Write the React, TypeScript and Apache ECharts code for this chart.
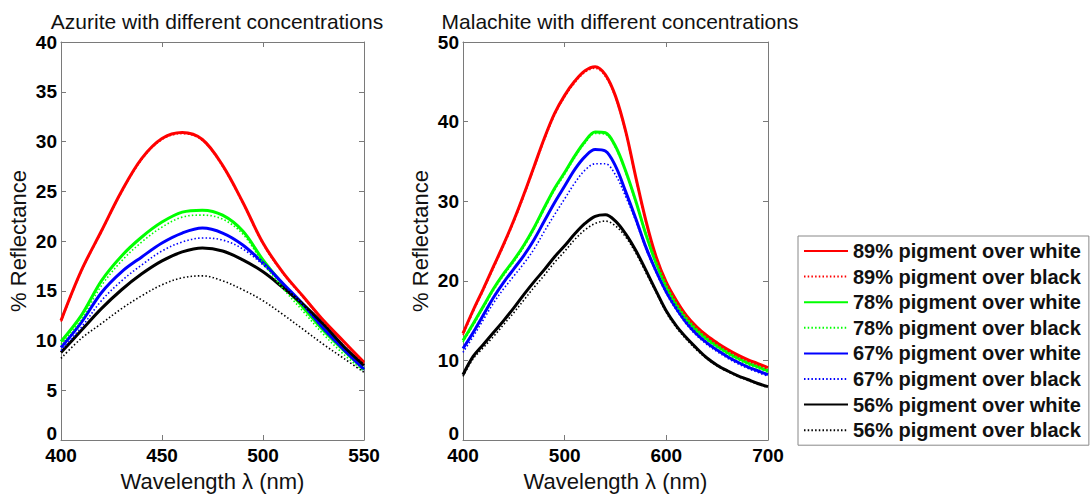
import React, { useEffect, useRef } from "react";
import * as echarts from "echarts";

// ---------- data ----------
const azuWavelengths = [400, 410, 420, 430, 440, 450, 460, 470, 480, 490, 500, 510, 520, 530, 540, 550];
const azu89White = [12.0, 17.0, 21.0, 25.0, 28.3, 30.3, 30.9, 30.2, 27.6, 23.9, 19.8, 16.8, 14.4, 12.0, 9.9, 7.8];
const azu89Black = [11.9, 16.9, 20.9, 24.9, 28.2, 30.2, 30.8, 30.1, 27.5, 23.8, 19.7, 16.7, 14.3, 11.9, 9.8, 7.7];
const azu78White = [9.9, 12.5, 16.0, 18.5, 20.4, 21.9, 22.9, 23.1, 22.6, 21.0, 18.1, 15.6, 13.3, 11.0, 9.0, 7.1];
const azu78Black = [9.6, 12.1, 15.5, 18.0, 19.9, 21.4, 22.4, 22.6, 22.2, 20.7, 17.8, 15.2, 12.9, 10.6, 8.6, 6.9];
const azu67White = [9.3, 11.8, 14.8, 16.9, 18.4, 19.8, 20.8, 21.3, 20.8, 19.6, 17.8, 15.7, 13.6, 11.2, 9.1, 7.1];
const azu67Black = [9.0, 11.3, 14.0, 16.0, 17.6, 19.0, 19.9, 20.3, 20.1, 19.2, 17.6, 15.6, 13.5, 11.1, 9.0, 7.0];
const azu56White = [8.8, 11.0, 13.2, 15.1, 16.7, 18.0, 18.9, 19.3, 19.0, 18.1, 16.9, 15.3, 13.6, 11.6, 9.4, 7.5];
const azu56Black = [8.2, 10.2, 11.7, 13.2, 14.5, 15.6, 16.3, 16.5, 16.0, 15.1, 14.0, 12.6, 11.1, 9.6, 8.2, 6.8];

const malWavelengths = [400, 410, 420, 430, 440, 450, 460, 470, 480, 490, 500, 510, 520, 530, 540, 550, 560, 570, 580, 590, 600, 610, 620, 630, 640, 650, 660, 670, 680, 690, 700];
const mal89White = [13.4, 16.3, 19.0, 21.8, 24.6, 27.6, 30.9, 34.4, 37.9, 41.0, 43.3, 45.1, 46.4, 46.9, 45.9, 43.2, 38.8, 33.0, 27.5, 23.0, 19.8, 17.5, 15.6, 14.2, 13.1, 12.2, 11.4, 10.7, 10.1, 9.6, 9.1];
const mal89Black = [13.2, 16.1, 18.8, 21.6, 24.4, 27.4, 30.7, 34.2, 37.7, 40.8, 43.1, 44.9, 46.2, 46.7, 45.7, 43.0, 38.6, 32.8, 27.3, 22.8, 19.6, 17.3, 15.4, 14.0, 12.9, 12.0, 11.2, 10.5, 9.9, 9.4, 8.9];
const mal78White = [12.5, 14.6, 16.8, 19.0, 20.9, 22.6, 24.5, 26.7, 29.2, 31.6, 33.6, 35.7, 37.5, 38.7, 38.6, 36.9, 33.8, 30.0, 25.8, 22.2, 19.3, 17.0, 15.2, 13.8, 12.7, 11.8, 11.0, 10.3, 9.7, 9.2, 8.7];
const mal78Black = [12.3, 14.4, 16.6, 18.8, 20.7, 22.4, 24.3, 26.5, 29.0, 31.4, 33.4, 35.5, 37.3, 38.5, 38.4, 36.7, 33.6, 29.8, 25.6, 22.0, 19.1, 16.8, 15.0, 13.6, 12.5, 11.6, 10.8, 10.1, 9.5, 9.0, 8.5];
const mal67White = [11.5, 13.5, 15.7, 17.9, 19.8, 21.5, 23.2, 25.2, 27.5, 29.8, 31.9, 34.0, 35.6, 36.5, 36.3, 34.4, 31.2, 27.8, 24.2, 21.2, 18.6, 16.5, 14.7, 13.3, 12.2, 11.3, 10.5, 9.8, 9.2, 8.7, 8.2];
const mal67Black = [11.0, 13.0, 15.1, 17.2, 19.0, 20.6, 22.2, 24.0, 26.2, 28.3, 30.3, 32.3, 33.9, 34.7, 34.7, 33.3, 30.6, 27.5, 24.0, 21.0, 18.4, 16.3, 14.5, 13.1, 12.0, 11.1, 10.3, 9.6, 9.0, 8.5, 8.0];
const mal56White = [8.2, 10.5, 12.0, 13.5, 15.0, 16.6, 18.3, 19.9, 21.4, 23.0, 24.4, 25.9, 27.2, 28.1, 28.3, 27.5, 25.9, 23.8, 21.3, 18.7, 16.2, 14.3, 12.8, 11.5, 10.3, 9.4, 8.7, 8.1, 7.6, 7.1, 6.7];
const mal56Black = [8.0, 10.2, 11.6, 13.0, 14.5, 16.0, 17.6, 19.2, 20.7, 22.3, 23.7, 25.2, 26.4, 27.2, 27.5, 26.9, 25.5, 23.5, 21.0, 18.5, 16.0, 14.1, 12.6, 11.3, 10.2, 9.3, 8.6, 8.0, 7.5, 7.0, 6.6];

const seriesNames = [
  "89% pigment over white",
  "89% pigment over black",
  "78% pigment over white",
  "78% pigment over black",
  "67% pigment over white",
  "67% pigment over black",
  "56% pigment over white",
  "56% pigment over black",
];
const seriesColors = ["#ff0000", "#ff0000", "#00ff00", "#00ff00", "#0000ff", "#0000ff", "#000000", "#000000"];
const seriesDotted = [false, true, false, true, false, true, false, true];

const azuSeries = [azu89White, azu89Black, azu78White, azu78Black, azu67White, azu67Black, azu56White, azu56Black];
const malSeries = [mal89White, mal89Black, mal78White, mal78Black, mal67White, mal67Black, mal56White, mal56Black];

const titles = ["Azurite with different concentrations", "Malachite with different concentrations"];

const FONT = "'Liberation Sans', Arial, sans-serif";
const AXIS_COLOR = "#7a7a7a";

function buildSeries(values: number[][], xs: number[], xIdx: number, yIdx: number) {
  return values.map((vals, i) => ({
    type: "line",
    name: seriesNames[i],
    xAxisIndex: xIdx,
    yAxisIndex: yIdx,
    data: xs.map((x, j) => [x, vals[j]]),
    symbol: "none",
    showSymbol: false,
    smooth: 0.35,
    z: seriesDotted[i] ? 3 : 2,
    lineStyle: seriesDotted[i]
      ? { color: seriesColors[i], width: 1.6, type: [1.5, 2.2] }
      : { color: seriesColors[i], width: 3, type: "solid" },
    itemStyle: { color: seriesColors[i] },
    emphasis: { disabled: true },
  }));
}

function xAxes(gridIndex: number, min: number, max: number, interval: number) {
  return [
    {
      type: "value",
      gridIndex,
      min,
      max,
      interval,
      position: "bottom",
      name: "Wavelength \u03bb (nm)",
      nameLocation: "middle",
      nameGap: 30,
      nameTextStyle: { fontFamily: FONT, fontSize: 22, color: "#111" },
      axisLine: { show: true, onZero: false, lineStyle: { color: AXIS_COLOR, width: 1 } },
      axisTick: { show: true, inside: true, length: 5, lineStyle: { color: AXIS_COLOR } },
      axisLabel: {
        fontFamily: FONT,
        fontSize: 19,
        fontWeight: "bold",
        color: "#000",
        margin: 8,
        lineHeight: 14,
      },
      splitLine: { show: false },
    },
    {
      type: "value",
      gridIndex,
      min,
      max,
      interval,
      position: "top",
      axisLine: { show: true, onZero: false, lineStyle: { color: AXIS_COLOR, width: 1 } },
      axisTick: { show: true, inside: true, length: 5, lineStyle: { color: AXIS_COLOR } },
      axisLabel: { show: false },
      splitLine: { show: false },
    },
  ];
}

function yAxes(gridIndex: number, min: number, max: number, interval: number) {
  return [
    {
      type: "value",
      gridIndex,
      min,
      max,
      interval,
      position: "left",
      name: "% Reflectance",
      nameLocation: "middle",
      nameGap: 32,
      nameTextStyle: { fontFamily: FONT, fontSize: 22, color: "#111" },
      axisLine: { show: true, onZero: false, lineStyle: { color: AXIS_COLOR, width: 1 } },
      axisTick: { show: true, inside: true, length: 5, lineStyle: { color: AXIS_COLOR } },
      axisLabel: {
        fontFamily: FONT,
        fontSize: 19,
        fontWeight: "bold",
        color: "#000",
        margin: 4,
        lineHeight: 14,
        verticalAlignMinLabel: "bottom",
      },
      splitLine: { show: false },
    },
    {
      type: "value",
      gridIndex,
      min,
      max,
      interval,
      position: "right",
      axisLine: { show: true, onZero: false, lineStyle: { color: AXIS_COLOR, width: 1 } },
      axisTick: { show: true, inside: true, length: 5, lineStyle: { color: AXIS_COLOR } },
      axisLabel: { show: false },
      splitLine: { show: false },
    },
  ];
}

export default function App() {
  const ref = useRef<HTMLDivElement>(null);

  useEffect(() => {
    if (!ref.current) return;
    const chart = echarts.init(ref.current, undefined, { renderer: "svg" });
    const option = {
      animation: false,
      backgroundColor: "#ffffff",
      title: [
        {
          text: titles[0],
          left: 212,
          top: 6,
          textAlign: "center",
          textStyle: { fontFamily: FONT, fontSize: 21, fontWeight: "normal", color: "#111" },
        },
        {
          text: titles[1],
          left: 615,
          top: 6,
          textAlign: "center",
          textStyle: { fontFamily: FONT, fontSize: 21, fontWeight: "normal", color: "#111" },
        },
      ],
      grid: [
        { left: 61, top: 42, width: 303, height: 403, containLabel: false },
        { left: 463, top: 42, width: 305, height: 403, containLabel: false },
      ],
      xAxis: [...xAxes(0, 400, 550, 50), ...xAxes(1, 400, 700, 100)],
      yAxis: [...yAxes(0, 0, 40, 5), ...yAxes(1, 0, 50, 10)],
      legend: {
        data: seriesNames,
        orient: "vertical",
        left: 798,
        top: 236,
        itemWidth: 44,
        itemHeight: 12,
        itemGap: 3.6,
        padding: [4, 8, 4, 5],
        borderColor: "#888",
        borderWidth: 1,
        backgroundColor: "#fff",
        selectedMode: false,
        itemStyle: { opacity: 0, borderWidth: 0 },
        textStyle: { fontFamily: FONT, fontSize: 20, fontWeight: "bold", color: "#111", lineHeight: 22 },
      },
      series: [...buildSeries(azuSeries, azuWavelengths, 0, 0), ...buildSeries(malSeries, malWavelengths, 2, 2)],
    };
    chart.setOption(option as any);
    return () => chart.dispose();
  }, []);

  return (
    <div
      ref={ref}
      style={{ position: "fixed", left: 0, top: 0, width: 1092, height: 497, background: "#fff" }}
    />
  );
}
